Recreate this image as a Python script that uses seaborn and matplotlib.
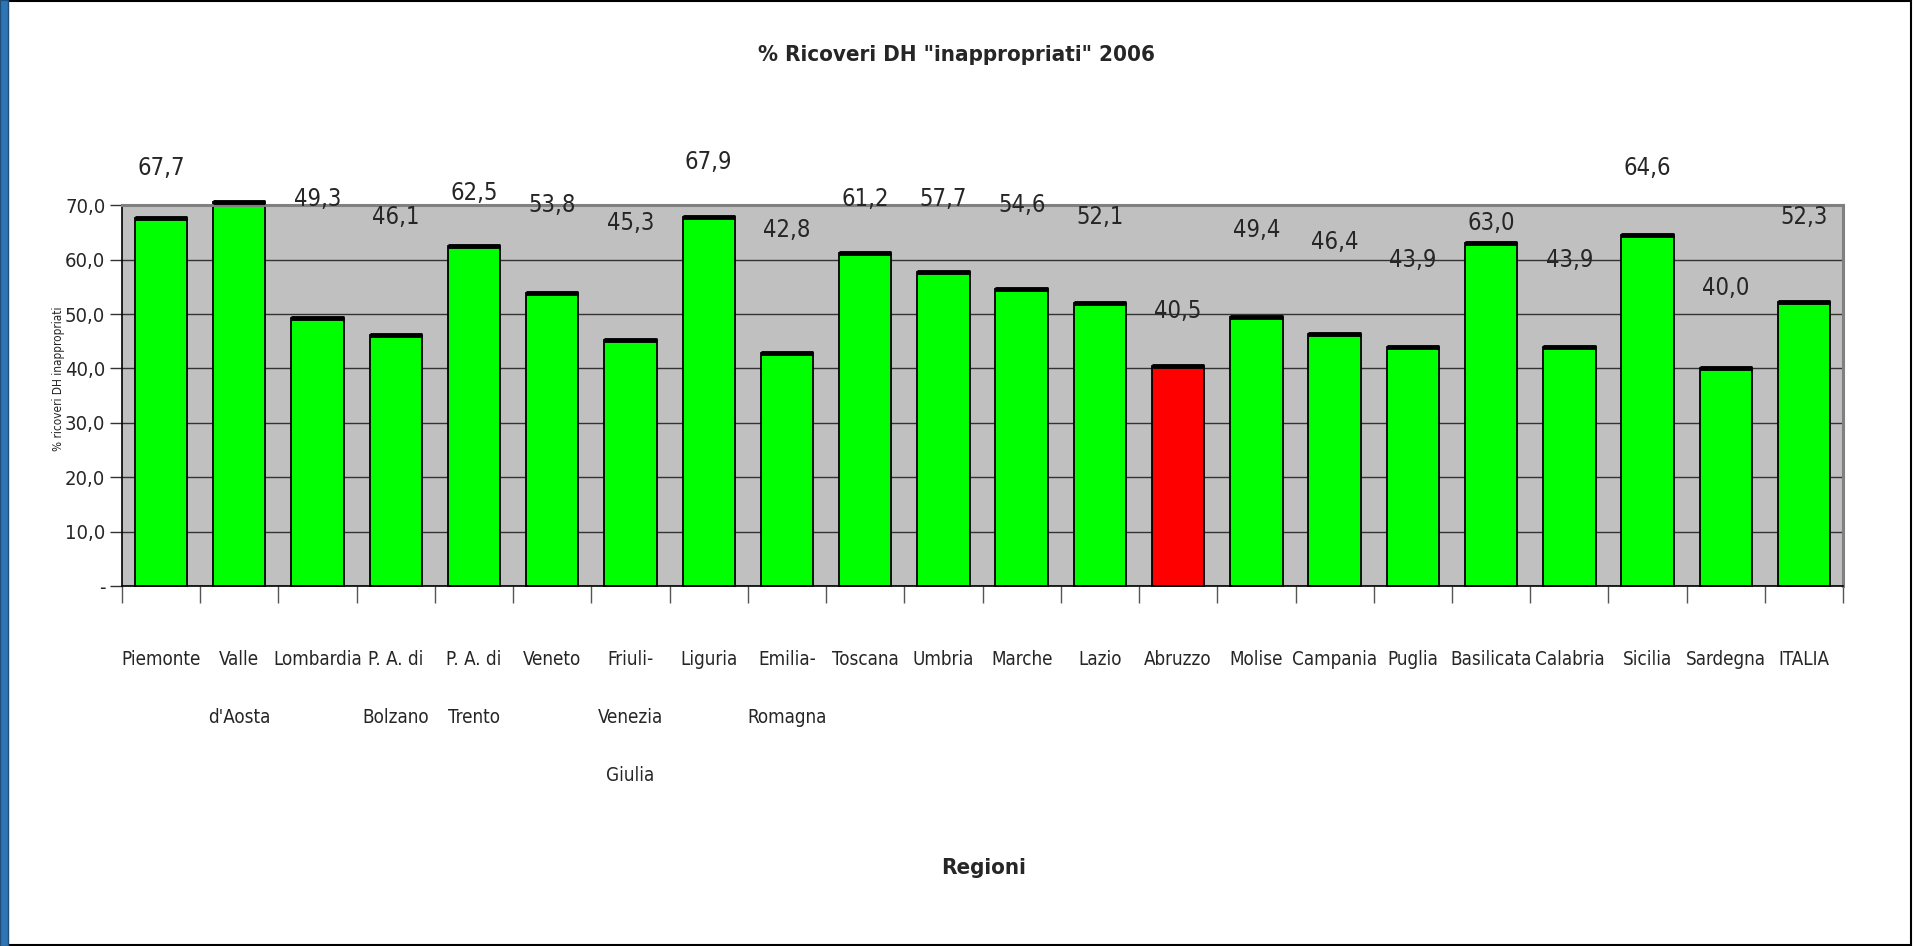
# Percentuale ricoveri DH "inappropriati" per regione, anno 2006
import numpy as np
import matplotlib
matplotlib.use("Agg")
import matplotlib.pyplot as plt
import seaborn as sns
from matplotlib.patches import Rectangle

sns.set_style("white")
plt.rcParams["font.family"] = ["DejaVu Sans"]
plt.rcParams["font.stretch"] = "condensed"

REGIONI = ["Piemonte", "Valle\nd'Aosta", "Lombardia", "P. A. di\nBolzano", "P. A. di\nTrento",
           "Veneto", "Friuli-\nVenezia\nGiulia", "Liguria", "Emilia-\nRomagna", "Toscana",
           "Umbria", "Marche", "Lazio", "Abruzzo", "Molise", "Campania", "Puglia",
           "Basilicata", "Calabria", "Sicilia", "Sardegna", "ITALIA"]
VALORI = [67.7, 70.6, 49.3, 46.1, 62.5, 53.8, 45.3, 67.9, 42.8, 61.2, 57.7,
          54.6, 52.1, 40.5, 49.4, 46.4, 43.9, 63.0, 43.9, 64.6, 40.0, 52.3]
# etichette come nel grafico originale (Valle d'Aosta senza etichetta)
ETICHETTE = ["67,7", "", "49,3", "46,1", "62,5", "53,8", "45,3", "67,9", "42,8", "61,2", "57,7",
             "54,6", "52,1", "40,5", "49,4", "46,4", "43,9", "63,0", "43,9", "64,6", "40,0", "52,3"]
# altezza (in unita' dell'asse) a cui sono scritte le etichette nell'originale
ETICHETTE_Y = [76.8, 0, 71.1, 67.8, 72.3, 70.0, 66.7, 77.9, 65.5, 71.1, 71.1,
               70.0, 67.8, 50.5, 65.5, 63.3, 59.9, 66.7, 59.9, 76.8, 54.8, 67.8]
EVIDENZIATA = "Abruzzo"
Y_TICKS = [0, 10, 20, 30, 40, 50, 60, 70]
Y_TICKLABELS = ["-", "10,0", "20,0", "30,0", "40,0", "50,0", "60,0", "70,0"]

VERDE = "#00FF00"
ROSSO = "#FF0000"
colori = [ROSSO if r == EVIDENZIATA else VERDE for r in REGIONI]

fig = plt.figure(figsize=(19.14, 9.46), dpi=100)
ax = fig.add_axes([0.0637, 0.3805, 0.8993, 0.4025])
ax.set_facecolor("#C0C0C0")

sns.barplot(x=REGIONI, y=VALORI, hue=REGIONI, palette=colori, legend=False,
            width=0.67, edgecolor="black", linewidth=1.3, saturation=1, ax=ax)
for p in ax.patches:
    p.set_clip_on(False)

xs = np.arange(len(REGIONI))
# bordo superiore spesso delle barre
ax.hlines(VALORI, xs - 0.335, xs + 0.335, colors="black", lw=3.5, clip_on=False, zorder=5)

ax.set_xlim(-0.5, len(REGIONI) - 0.5)
ax.set_ylim(0, 70)
ax.yaxis.grid(True, color="#333333", lw=1.0)
ax.set_axisbelow(True)

ax.set_yticks(Y_TICKS)
ax.set_yticklabels(Y_TICKLABELS, fontsize=14.5)
ax.tick_params(axis="y", direction="out", length=9, width=1, color="#333333", pad=3, left=True)

ax.set_xticks(xs)
ax.set_xticklabels(REGIONI, fontsize=13.5, linespacing=3.6, va="top")
ax.tick_params(axis="x", which="major", length=0, pad=46)
ax.set_xticks(np.arange(-0.5, len(REGIONI), 1), minor=True)
ax.tick_params(axis="x", which="minor", direction="out", length=12, width=1, color="#555555", bottom=True)

for s in ["left", "bottom"]:
    ax.spines[s].set_color("black")
    ax.spines[s].set_linewidth(1.2)
for s in ["top", "right"]:
    ax.spines[s].set_color("#808080")
    ax.spines[s].set_linewidth(2.2)

for x, lab, yl in zip(xs, ETICHETTE, ETICHETTE_Y):
    if lab:
        ax.text(x, yl, lab, ha="center", va="center", fontsize=17, clip_on=False)

ax.set_xlabel("")
ax.set_ylabel("")
fig.text(0.5, 0.942, "% Ricoveri DH \"inappropriati\" 2006", ha="center", va="center",
         fontsize=16, fontweight="bold")
fig.text(0.514, 0.082, "Regioni", ha="center", va="center", fontsize=16, fontweight="bold")
fig.text(0.0305, 0.6, "% ricoveri DH inappropriati", rotation=90, ha="center", va="center",
         fontsize=8.5, color="#222222")

# cornice della figura
fig.patches.append(Rectangle((0.0015, 0.001), 0.997, 0.998, transform=fig.transFigure,
                             fill=False, edgecolor="black", lw=1.5))
fig.patches.append(Rectangle((0.0, 0.0), 0.0042, 1.0, transform=fig.transFigure,
                             facecolor="#2E75B6", edgecolor="#1F4E79", lw=1))

plt.savefig("out.png", dpi=100)
